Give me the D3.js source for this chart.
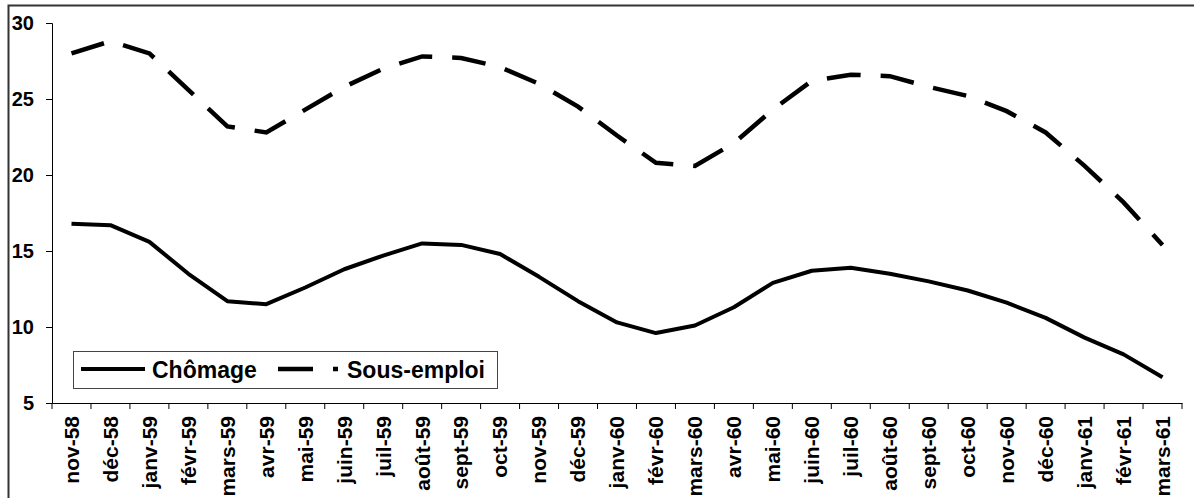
<!DOCTYPE html>
<html>
<head>
<meta charset="utf-8">
<script src="https://cdn.jsdelivr.net/npm/d3@7"></script>
<style>
	body { margin: 0; background: #fff; }
	svg { display: block; font-family: 'Liberation Sans', Arial, sans-serif; font-weight: bold; }
</style>
</head>
<body>
<div id="chart"></div>
<script>
const MONTHS = ['nov-58', 'déc-58', 'janv-59', 'févr-59', 'mars-59', 'avr-59', 'mai-59', 'juin-59',
	'juil-59', 'août-59', 'sept-59', 'oct-59', 'nov-59', 'déc-59', 'janv-60', 'févr-60', 'mars-60',
	'avr-60', 'mai-60', 'juin-60', 'juil-60', 'août-60', 'sept-60', 'oct-60', 'nov-60', 'déc-60',
	'janv-61', 'févr-61', 'mars-61'];

const CHOMAGE = [16.8, 16.7, 15.6, 13.5, 11.7, 11.5, 12.6, 13.8, 14.7, 15.5, 15.4, 14.8, 13.3,
	11.7, 10.3, 9.6, 10.1, 11.3, 12.9, 13.7, 13.9, 13.5, 13.0, 12.4, 11.6, 10.6, 9.3, 8.2, 6.7];

const SOUS_EMPLOI = [28.0, 28.8, 28.0, 25.6, 23.2, 22.8, 24.3, 25.8, 27.0, 27.8, 27.7, 27.1, 26.0,
	24.5, 22.6, 20.8, 20.6, 22.1, 24.3, 26.2, 26.6, 26.5, 25.8, 25.2, 24.2, 22.8, 20.6, 18.2, 15.4];

const Y_TICKS = [5, 10, 15, 20, 25, 30];

const WIDTH = 1194, HEIGHT = 498;
const MARGIN_LEFT = 52, MARGIN_TOP = 23;
const CHART_WIDTH = 1130, CHART_HEIGHT = 380;
const FONT = "'Liberation Sans', Arial, sans-serif";

const svg = d3.select('#chart').append('svg')
	.attr('width', WIDTH)
	.attr('height', HEIGHT);

// outer frame
svg.append('rect')
	.attr('x', 8.5)
	.attr('y', 5.5)
	.attr('width', 1190)
	.attr('height', 500)
	.attr('fill', 'none')
	.attr('stroke', '#333')
	.attr('stroke-width', 2);

const container = svg.append('g')
	.attr('transform', 'translate(' + MARGIN_LEFT + ',' + MARGIN_TOP + ')');

const xScale = d3.scaleBand()
	.domain(MONTHS)
	.range([0, CHART_WIDTH]);

const yScale = d3.scaleLinear()
	.domain([5, 30])
	.range([CHART_HEIGHT, 0]);

const yAxis = container.append('g')
	.call(d3.axisLeft(yScale).tickValues(Y_TICKS).tickSize(6).tickPadding(12));
yAxis.select('.domain').attr('stroke', '#000');
yAxis.selectAll('text')
	.attr('font-size', 20)
	.attr('font-weight', 'bold')
	.attr('font-family', FONT)
	.attr('fill', '#000');

const xAxis = container.append('g')
	.attr('transform', 'translate(0,' + CHART_HEIGHT + ')')
	.call(d3.axisBottom(xScale).tickSize(0).tickPadding(0));
xAxis.select('.domain').attr('stroke', '#000');
xAxis.selectAll('text')
	.attr('font-size', 21)
	.attr('font-weight', 'bold')
	.attr('font-family', FONT)
	.attr('fill', '#000')
	.attr('text-anchor', 'end')
	.attr('transform', 'translate(0,13) rotate(-90)')
	.attr('x', 0)
	.attr('y', 0)
	.attr('dy', '0.35em');

// category boundary ticks
container.append('g')
	.selectAll('line')
	.data(MONTHS.map((d) => xScale(d)).concat([CHART_WIDTH]))
	.enter()
	.append('line')
	.attr('x1', (d) => d)
	.attr('x2', (d) => d)
	.attr('y1', CHART_HEIGHT)
	.attr('y2', CHART_HEIGHT + 6)
	.attr('stroke', '#000');

const generateLine = d3.line()
	.x((d, i) => xScale(MONTHS[i]) + xScale.bandwidth() / 2)
	.y((d) => yScale(d));

container.append('path')
	.datum(CHOMAGE)
	.attr('fill', 'none')
	.attr('stroke', '#000')
	.attr('stroke-width', 4)
	.attr('stroke-linejoin', 'round')
	.attr('d', generateLine);

container.append('path')
	.datum(SOUS_EMPLOI)
	.attr('fill', 'none')
	.attr('stroke', '#000')
	.attr('stroke-width', 4.5)
	.attr('stroke-dasharray', '34,20')
	.attr('d', generateLine);

// legend
const legend = svg.append('g')
	.attr('font-family', FONT)
	.attr('font-weight', 'bold');

legend.append('rect')
	.attr('x', 73.5)
	.attr('y', 351.5)
	.attr('width', 424)
	.attr('height', 37)
	.attr('fill', '#fff')
	.attr('stroke', '#444')
	.attr('stroke-width', 1);

legend.append('line')
	.attr('x1', 81).attr('x2', 145)
	.attr('y1', 369).attr('y2', 369)
	.attr('stroke', '#000')
	.attr('stroke-width', 4);

legend.append('text')
	.attr('x', 152)
	.attr('y', 378)
	.attr('font-size', 23)
	.text('Chômage');

legend.append('line')
	.attr('x1', 278).attr('x2', 338)
	.attr('y1', 369).attr('y2', 369)
	.attr('stroke', '#000')
	.attr('stroke-width', 4.5)
	.attr('stroke-dasharray', '35,20');

legend.append('text')
	.attr('x', 347)
	.attr('y', 378)
	.attr('font-size', 23)
	.text('Sous-emploi');
</script>
</body>
</html>
